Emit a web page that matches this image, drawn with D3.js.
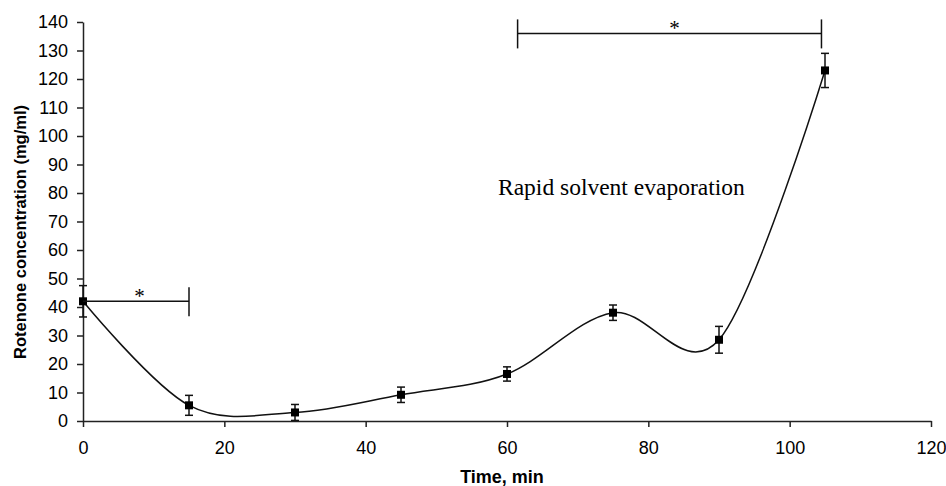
<!DOCTYPE html>
<html>
<head>
<meta charset="utf-8">
<script src="https://cdn.jsdelivr.net/npm/d3@7"></script>
<style>
body { margin: 0; background: #fff; }
svg text { font-family: "Liberation Sans", Arial, sans-serif; }
</style>
</head>
<body>
<svg id="chart" width="946" height="486"></svg>
<script>
// data
var times = [0, 15, 30, 45, 60, 75, 90, 105];
var conc = [42, 5.5, 3.0, 9.2, 16.5, 38, 28.5, 123];
var errs = [5.5, 3.5, 2.8, 2.7, 2.5, 2.7, 4.7, 6];
var xTicks = [0, 20, 40, 60, 80, 100, 120];
var yTicks = [0, 10, 20, 30, 40, 50, 60, 70, 80, 90, 100, 110, 120, 130, 140];
// significance brackets: [start, end, level, star x]
var brackets = [
	[0, 15, 42, 8],
	[61.5, 104.5, 136, 83.7]
];

var margin = {top: 22, right: 15, bottom: 65, left: 83};
var width = 946 - margin.left - margin.right;
var height = 486 - margin.top - margin.bottom;

var svg = d3.select('#chart');
var g = svg.append('g').attr('transform', 'translate(' + margin.left + ',' + margin.top + ')');

var x = d3.scaleLinear().domain([0, 120]).range([0, width]);
var y = d3.scaleLinear().domain([0, 140]).range([height, 0]);

// axes
var xAxis = g.append('g')
	.attr('transform', 'translate(0,' + height + ')')
	.call(d3.axisBottom(x).tickValues(xTicks).tickSize(6).tickSizeOuter(0).tickPadding(14));
var yAxis = g.append('g')
	.call(d3.axisLeft(y).tickValues(yTicks).tickSize(6).tickSizeOuter(0).tickPadding(9));

[xAxis, yAxis].forEach(function(a) {
	a.selectAll('path, line').attr('stroke', '#222').attr('stroke-width', 1.5);
	a.selectAll('text').attr('font-size', 18).attr('fill', '#000')
		.style('font-family', '"Liberation Sans", Arial, sans-serif');
});

// smoothed curve
var line = d3.line()
	.x(function(d, i) {return x(times[i]);})
	.y(function(d) {return y(d);})
	.curve(d3.curveCardinal.tension(0));

g.append('path')
	.datum(conc)
	.attr('d', line)
	.attr('fill', 'none')
	.attr('stroke', '#111')
	.attr('stroke-width', 1.5);

// error bars
var eb = g.append('g').attr('stroke', '#111').attr('stroke-width', 1.5);
times.forEach(function(t, i) {
	var cx = x(t);
	var top = y(conc[i] + errs[i]), bot = y(Math.max(0, conc[i] - errs[i]));
	eb.append('line').attr('x1', cx).attr('x2', cx).attr('y1', top).attr('y2', bot);
	eb.append('line').attr('x1', cx - 4).attr('x2', cx + 4).attr('y1', top).attr('y2', top);
	eb.append('line').attr('x1', cx - 4).attr('x2', cx + 4).attr('y1', bot).attr('y2', bot);
});

// markers
g.selectAll('rect.pt')
	.data(conc)
	.join('rect')
	.classed('pt', true)
	.attr('x', function(d, i) {return x(times[i]) - 4;})
	.attr('y', function(d) {return y(d) - 4;})
	.attr('width', 8)
	.attr('height', 8)
	.attr('fill', '#000');

// brackets with stars
var br = g.append('g').attr('stroke', '#111').attr('stroke-width', 1.5);
brackets.forEach(function(b, i) {
	var by = y(b[2]);
	br.append('line').attr('x1', x(b[0])).attr('x2', x(b[1])).attr('y1', by).attr('y2', by);
	if (i > 0) br.append('line').attr('x1', x(b[0])).attr('x2', x(b[0])).attr('y1', by - 14).attr('y2', by + 15);
	br.append('line').attr('x1', x(b[1])).attr('x2', x(b[1])).attr('y1', by - 14).attr('y2', by + 15);
	g.append('text')
		.attr('x', x(b[3]))
		.attr('y', by + 2)
		.attr('text-anchor', 'middle')
		.attr('font-size', 21)
		.style('font-family', '"Liberation Serif", "Times New Roman", serif')
		.text('*');
});

// annotation
g.append('text')
	.attr('x', 415)
	.attr('y', 173)
	.attr('font-size', 23.5)
	.style('font-family', '"Liberation Serif", "Times New Roman", serif')
	.text('Rapid solvent evaporation');

// axis titles
svg.append('text')
	.attr('x', 502)
	.attr('y', 483)
	.attr('text-anchor', 'middle')
	.attr('font-size', 18)
	.attr('font-weight', 'bold')
	.text('Time, min');

svg.append('text')
	.attr('transform', 'translate(26,232) rotate(-90)')
	.attr('text-anchor', 'middle')
	.attr('font-size', 16.5)
	.attr('font-weight', 'bold')
	.text('Rotenone concentration (mg/ml)');
</script>
</body>
</html>
